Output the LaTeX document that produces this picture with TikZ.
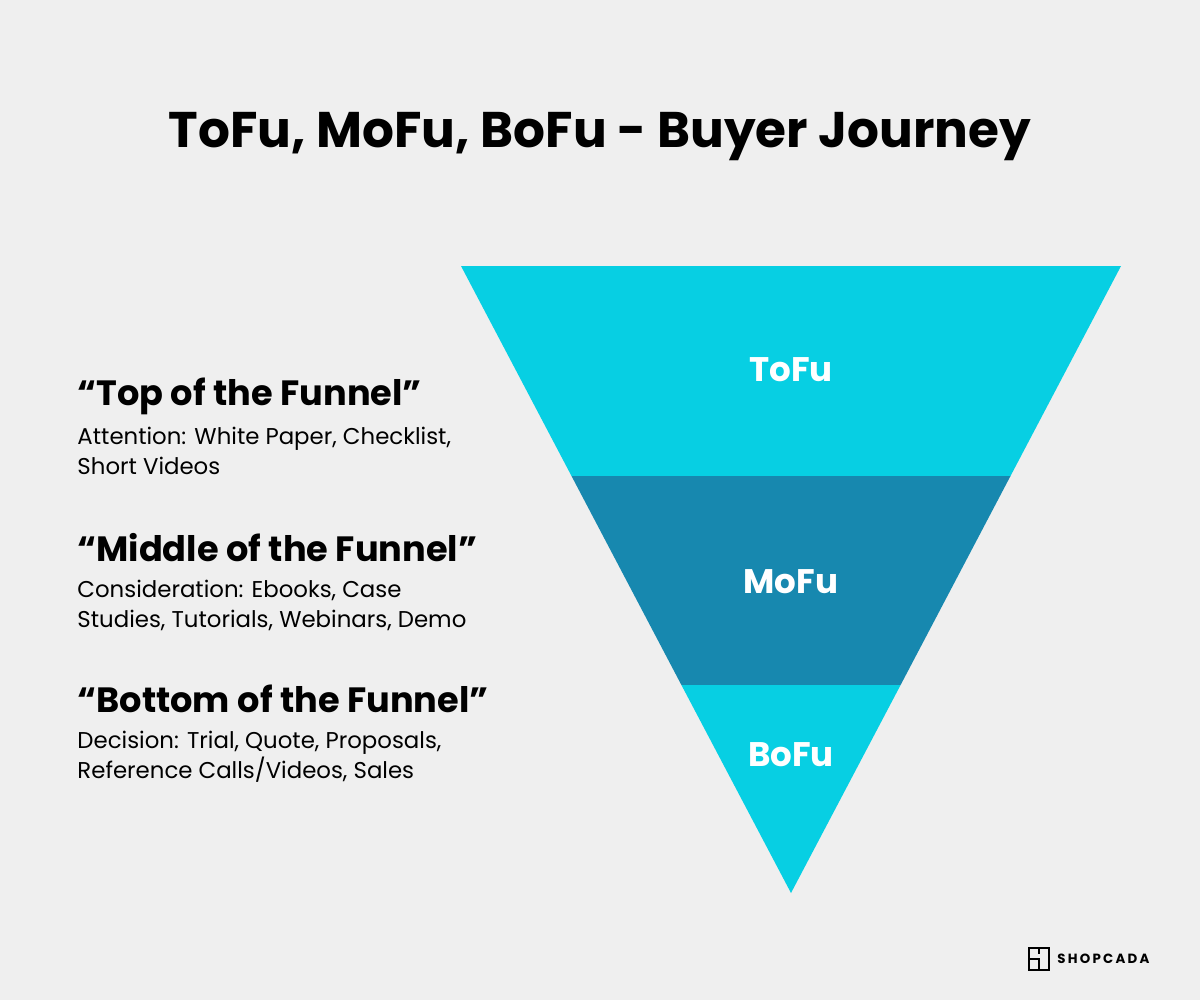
\documentclass[tikz,border=0pt]{standalone}
\usepackage{fontspec}
\setmainfont{Poppins}
\definecolor{bgGray}{HTML}{EFEFEF}
\definecolor{funCyan}{HTML}{07CFE3}
\definecolor{funTeal}{HTML}{1788AF}
\tikzset{
  stage/.style={font=\bfseries\fontsize{48.5}{52}\selectfont, text=white},
  heading/.style={anchor=west, font=\bfseries\fontsize{50}{56}\selectfont},
  body/.style={anchor=north west, align=left, font=\fontsize{32.5}{42}\selectfont}
}
\begin{document}
\begin{tikzpicture}[x=0.05cm, y=-0.05cm]
  % background
  \fill [bgGray] (0.000000,0.000000) rectangle (1200.000000,1000.000000);
  \useasboundingbox (0.000000,0.000000) rectangle (1200.000000,1000.000000);

  % title
  \node (title) at (600.000000,137.000000) [font=\bfseries\fontsize{71.3}{80}\selectfont] {ToFu, MoFu, BoFu - Buyer Journey};

  % funnel bands
  \fill [funCyan] (461.000000,266.000000) -- (1121.000000,266.000000) -- (1010.500000,476.000000) -- (571.500000,476.000000) -- cycle;
  \fill [funTeal] (571.500000,476.000000) -- (1010.500000,476.000000) -- (900.600000,685.000000) -- (681.400000,685.000000) -- cycle;
  \fill [funCyan] (681.400000,685.000000) -- (900.600000,685.000000) -- (791.000000,893.000000) -- cycle;

  % funnel labels
  \node (tofu) at (791.000000,370.000000) [stage] {ToFu};
  \node (mofu) at (791.000000,582.000000) [stage] {MoFu};
  \node (bofu) at (791.000000,755.000000) [stage] {BoFu};

  % left column
  \node (topHead) at (75.000000,396.000000) [heading] {“Top of the Funnel”};
  \node (topBody) at (75.000000,425.000000) [body] {Attention: White Paper, Checklist,\\Short Videos};
  \node (midHead) at (75.000000,548.000000) [heading] {“Middle of the Funnel”};
  \node (midBody) at (75.000000,578.000000) [body] {Consideration: Ebooks, Case\\Studies, Tutorials, Webinars, Demo};
  \node (botHead) at (75.000000,699.000000) [heading] {“Bottom of the Funnel”};
  \node (botBody) at (75.000000,729.000000) [body] {Decision: Trial, Quote, Proposals,\\Reference Calls/Videos, Sales};

  % logo
  \draw [line width=0.1cm] (1029.000000,948.000000) rectangle (1049.000000,970.000000);
  \draw [line width=0.1cm] (1029.000000,959.000000) -- (1039.000000,959.000000) -- (1039.000000,970.000000);
  \draw [line width=0.1cm] (1039.000000,948.000000) -- (1039.000000,954.000000);
  \node (logo) at (1055.000000,959.000000) [anchor=west, font=\bfseries\fontsize{19}{20}\selectfont] {S\,H\,O\,P\,C\,A\,D\,A};
\end{tikzpicture}
\end{document}
